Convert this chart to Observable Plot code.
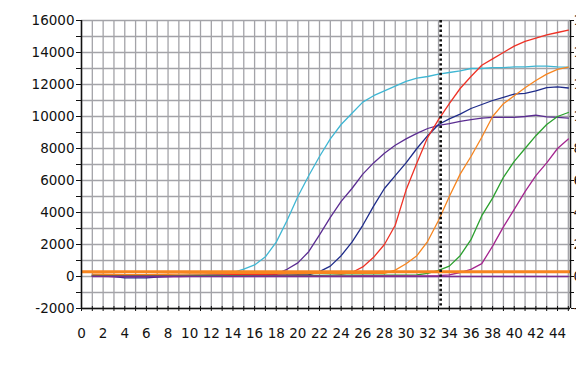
<!DOCTYPE html>
<html>
<head>
<meta charset="utf-8">
<script src="https://cdn.jsdelivr.net/npm/d3@7"></script>
<script src="https://cdn.jsdelivr.net/npm/@observablehq/plot@0.6"></script>
<style>
  html, body { margin: 0; padding: 0; background: #fff; }
  #chart { width: 576px; height: 381px; overflow: hidden; }
</style>
</head>
<body>
<div id="chart"></div>
<script>
// Amplification cycles
const cycles = [1,2,3,4,5,6,7,8,9,10,11,12,13,14,15,16,17,18,19,20,21,22,23,24,25,26,27,28,29,30,31,32,33,34,35,36,37,38,39,40,41,42,43,44,45];

// Fluorescence values, one array per well
const cyan    = [120,100,80,60,50,50,60,70,80,100,110,120,150,250,460,720,1230,2150,3500,5000,6300,7500,8600,9500,10200,10900,11300,11600,11900,12200,12400,12500,12650,12750,12850,13000,13000,13050,13050,13100,13100,13150,13150,13100,13080];
const violet  = [80,70,60,50,40,30,30,40,50,60,60,70,70,80,80,90,100,150,450,850,1550,2600,3700,4700,5500,6400,7100,7700,8200,8600,8950,9250,9450,9550,9700,9800,9900,9950,9950,9950,10000,10080,9980,9950,9900];
const navy    = [40,20,0,-90,-90,-90,-40,0,20,40,50,60,60,70,70,80,80,90,90,100,100,300,650,1300,2150,3200,4400,5500,6300,7100,8000,8800,9500,9850,10150,10500,10750,11000,11200,11400,11450,11600,11800,11850,11780];
const red     = [60,50,40,30,30,30,40,50,60,70,80,90,100,110,120,130,140,150,160,170,180,190,200,150,250,600,1200,2000,3200,5400,7100,8700,9800,10800,11750,12500,13200,13600,14000,14400,14700,14900,15100,15250,15400];
const orange  = [150,140,130,120,120,120,130,140,150,160,170,180,190,200,200,200,200,200,200,200,200,200,200,200,200,200,200,200,400,800,1300,2200,3500,5000,6400,7500,8700,10000,10800,11300,11800,12250,12650,12950,13080];
const green   = [40,40,30,30,30,30,30,40,40,40,50,50,50,50,60,60,60,60,70,70,70,70,80,80,80,80,80,80,80,90,100,200,380,650,1300,2300,3800,4900,6200,7200,8000,8800,9500,10000,10250];
const magenta = [10,10,0,0,0,0,0,0,0,10,10,10,10,10,10,20,20,20,20,20,20,20,20,20,20,30,30,30,30,30,40,40,50,100,250,450,800,1900,3100,4200,5300,6300,7100,8000,8600];
const ntc     = [0,0,0,0,0,0,0,0,0,0,0,0,0,0,0,0,0,0,0,0,0,0,0,0,0,0,0,0,0,0,0,0,0,0,0,0,0,0,0,0,0,0,0,0,0];

const seriesNames  = ["cyan","violet","navy","red","orange","green","magenta","ntc"];
const seriesValues = [cyan, violet, navy, red, orange, green, magenta, ntc];
const seriesColors = ["#3fb6d3","#5b2d92","#1f2c8a","#ee3226","#f7851f","#2ba02e","#a4258f","#7a2a92"];

// Threshold and Ct marker
const threshold = [300];
const ctCycle = [33.2];

// Axes
const xDomain = [0, 45.2];
const yDomain = [-2000, 16000];
const xGrid = [0,1,2,3,4,5,6,7,8,9,10,11,12,13,14,15,16,17,18,19,20,21,22,23,24,25,26,27,28,29,30,31,32,33,34,35,36,37,38,39,40,41,42,43,44,45];
const xLabels = [0,2,4,6,8,10,12,14,16,18,20,22,24,26,28,30,32,34,36,38,40,42,44];
const yGrid = [-2000,-1000,0,1000,2000,3000,4000,5000,6000,7000,8000,9000,10000,11000,12000,13000,14000,15000,16000];
const yLabels = [-2000,0,2000,4000,6000,8000,10000,12000,14000,16000];

const rows = [];
seriesNames.forEach((name, i) => {
  seriesValues[i].forEach((v, j) => rows.push({series: name, cycle: cycles[j], value: v}));
});

const yFmt = d => (yLabels.includes(d) ? String(d) : "");

const chart = Plot.plot({
  width: 576,
  height: 381,
  marginTop: 20,
  marginLeft: 81,
  marginRight: 6,
  marginBottom: 73,
  x: {domain: xDomain, label: null},
  y: {domain: yDomain, label: null},
  color: {domain: seriesNames, range: seriesColors},
  style: {fontFamily: "DejaVu Sans", fontSize: "13.5px", background: "#fff", color: "#111"},
  marks: [
    Plot.gridX({ticks: xGrid, stroke: "#a3a3a8", strokeOpacity: 1, strokeWidth: 1.3}),
    Plot.gridY({ticks: yGrid, stroke: "#a3a3a8", strokeOpacity: 1, strokeWidth: 1.3}),
    Plot.line(rows, {x: "cycle", y: "value", z: "series", stroke: "series", strokeWidth: 1.3}),
    Plot.ruleY(threshold, {stroke: "#f7851f", strokeWidth: 3}),
    Plot.ruleX(ctCycle, {stroke: "#111", strokeWidth: 2.6, strokeDasharray: "2.4,2.4"}),
    Plot.ruleX([xDomain[0]], {stroke: "#111", strokeWidth: 1.5}),
    Plot.ruleX([xDomain[1]], {stroke: "#111", strokeWidth: 1.5}),
    Plot.ruleY([yDomain[0]], {stroke: "#111", strokeWidth: 1.5}),
    Plot.axisY({ticks: yGrid, tickSize: 5, tickPadding: 2, tickFormat: yFmt, stroke: "#111", label: null}),
    Plot.axisY({anchor: "right", ticks: yGrid, tickSize: 3, tickPadding: 0, tickFormat: yFmt, stroke: "#111", label: null}),
    Plot.axisX({ticks: xGrid, tickSize: 5, dy: -2, text: null, stroke: "#111", label: null}),
    Plot.axisX({ticks: xLabels, tickSize: 0, tickPadding: 20, tickFormat: d => String(d), label: null})
  ]
});
document.getElementById("chart").appendChild(chart);
</script>
</body>
</html>
